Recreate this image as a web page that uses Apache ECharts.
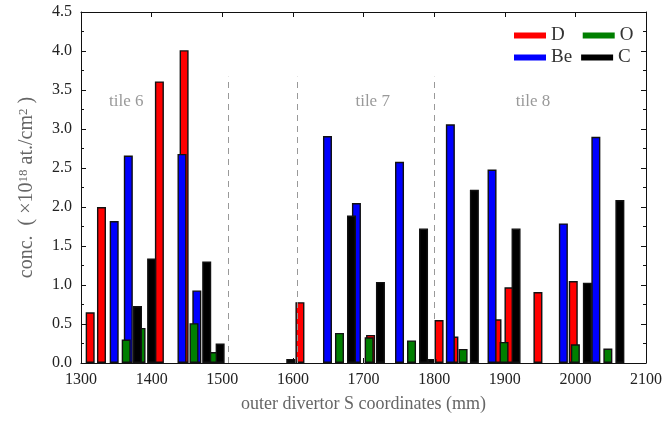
<!DOCTYPE html>
<html>
<head>
<meta charset="utf-8">
<script src="https://cdn.jsdelivr.net/npm/echarts@6/dist/echarts.min.js"></script>
<style>
  html, body { margin: 0; padding: 0; background: #fff; }
  #chart { width: 665px; height: 421px; }
</style>
</head>
<body>
<div id="chart"></div>
<script>
// deposits per species, x = S coordinate (mm), y = conc (1e18 at/cm2)
const dX = [1313, 1329, 1411, 1446, 1610, 1710, 1807, 1828, 1889, 1906, 1947, 1997]
const dY = [0.65, 2.0, 3.61, 4.01, 0.78, 0.36, 0.55, 0.34, 0.56, 0.97, 0.91, 1.05]

const beX = [1347, 1367, 1443, 1464, 1649, 1690, 1751, 1823, 1882, 1983, 2029]
const beY = [1.82, 2.66, 2.68, 0.93, 2.91, 2.05, 2.58, 3.06, 2.48, 1.79, 2.90]

const oX = [1364, 1385, 1460, 1487, 1666, 1708, 1768, 1841, 1899, 2000, 2046]
const oY = [0.30, 0.45, 0.51, 0.14, 0.385, 0.33, 0.29, 0.18, 0.27, 0.24, 0.185]

const cX = [1380, 1400, 1478, 1497, 1597, 1683, 1724, 1785, 1797, 1857, 1916, 2017, 2063]
const cY = [0.73, 1.34, 1.30, 0.25, 0.05, 1.89, 1.04, 1.725, 0.05, 2.22, 1.725, 1.03, 2.09]

// tile boundaries and tile names
const tileBounds = [1508, 1606, 1800]
const tileTop = 3.67
const tileNames = ['tile 6', 'tile 7', 'tile 8']
const tileX = [1364, 1713, 1940]
const tileY = [3.35, 3.35, 3.35]

const xTicks = [1300, 2100, 100]
const yTicks = [0, 4.5, 0.5]

const font = 'Liberation Serif'

const pairs = (xs, ys) => xs.map((x, i) => [x, ys[i]])

const barSeries = (name, color, xs, ys) => ({
  name: name,
  type: 'bar',
  xAxisIndex: 0,
  yAxisIndex: 0,
  barWidth: 9,
  barGap: '-100%',
  itemStyle: { color: color, borderColor: '#111', borderWidth: 1.4 },
  data: pairs(xs, ys)
})

const chart = echarts.init(document.getElementById('chart'))

const legendBase = {
  left: 509,
  orient: 'horizontal',
  icon: 'rect',
  itemWidth: 32,
  itemHeight: 6,
  itemStyle: { borderWidth: 0 },
  textStyle: { fontFamily: font, fontSize: 19, color: '#333' },
  selectedMode: false
}

const tickStyle = () => ({ show: true, inside: true, length: 5, lineStyle: { color: '#111', width: 1 } })
const minorStyle = () => ({ show: true, splitNumber: 2, length: 3, lineStyle: { color: '#111', width: 1 } })

const mirrorAxis = () => ({
  axisLine: { show: true, onZero: false, lineStyle: { color: '#111', width: 1 } },
  axisTick: tickStyle(),
  axisLabel: { show: false },
  splitLine: { show: false }
})

const option = {
  backgroundColor: '#fff',
  animation: false,
  grid: { left: 81, right: 18, top: 12, bottom: 58 },
  legend: [
    Object.assign({}, legendBase, { top: 21, itemGap: 18, data: ['D', 'O'] }),
    Object.assign({}, legendBase, { top: 43, itemGap: 9, data: ['Be', 'C'] })
  ],
  xAxis: [
    {
      type: 'value',
      min: xTicks[0], max: xTicks[1], interval: xTicks[2],
      name: 'outer divertor S coordinates (mm)',
      nameLocation: 'middle',
      nameGap: 32,
      nameTextStyle: { fontFamily: font, fontSize: 18, color: '#666' },
      axisLine: { show: true, onZero: false, lineStyle: { color: '#111', width: 1 } },
      axisTick: tickStyle(),
      axisLabel: { fontFamily: font, fontSize: 16, color: '#222', margin: 9, formatter: v => String(v) },
      splitLine: { show: false }
    },
    Object.assign({ type: 'value', position: 'top', min: xTicks[0], max: xTicks[1], interval: xTicks[2] }, mirrorAxis())
  ],
  yAxis: [
    {
      type: 'value',
      min: yTicks[0], max: yTicks[1], interval: yTicks[2],
      name: 'conc.  ( ×10{sup|18} at./cm{sup|2} )',
      nameLocation: 'middle',
      nameGap: 44,
      nameTextStyle: {
        fontFamily: font, fontSize: 20, color: '#666',
        rich: { sup: { fontFamily: font, fontSize: 13, color: '#666', verticalAlign: 'top', lineHeight: 12 } }
      },
      axisLine: { show: true, onZero: false, lineStyle: { color: '#111', width: 1 } },
      axisTick: tickStyle(),
      minorTick: minorStyle(),
      axisLabel: {
        fontFamily: font, fontSize: 16, color: '#222', margin: 9,
        formatter: v => v.toFixed(1)
      },
      splitLine: { show: false }
    },
    Object.assign({
      type: 'value', position: 'right', min: yTicks[0], max: yTicks[1], interval: yTicks[2],
      minorTick: minorStyle()
    }, mirrorAxis())
  ],
  series: [
    Object.assign(barSeries('D', '#ff0000', dX, dY), {
      markLine: {
        silent: true,
        symbol: 'none',
        label: { show: false },
        lineStyle: { type: [6, 5], color: '#999', width: 1 },
        data: tileBounds.map(x => [{ coord: [x, 0] }, { coord: [x, tileTop] }])
      }
    }),
    barSeries('Be', '#0000ff', beX, beY),
    barSeries('O', '#007f00', oX, oY),
    barSeries('C', '#000000', cX, cY),
    {
      name: 'tiles',
      type: 'scatter',
      symbolSize: 0,
      silent: true,
      label: {
        show: true,
        position: 'inside',
        formatter: p => p.data.name,
        fontFamily: font,
        fontSize: 17,
        color: '#808080'
      },
      data: tileNames.map((n, i) => ({ name: n, value: [tileX[i], tileY[i]] }))
    }
  ]
}

chart.setOption(option)
</script>
</body>
</html>
